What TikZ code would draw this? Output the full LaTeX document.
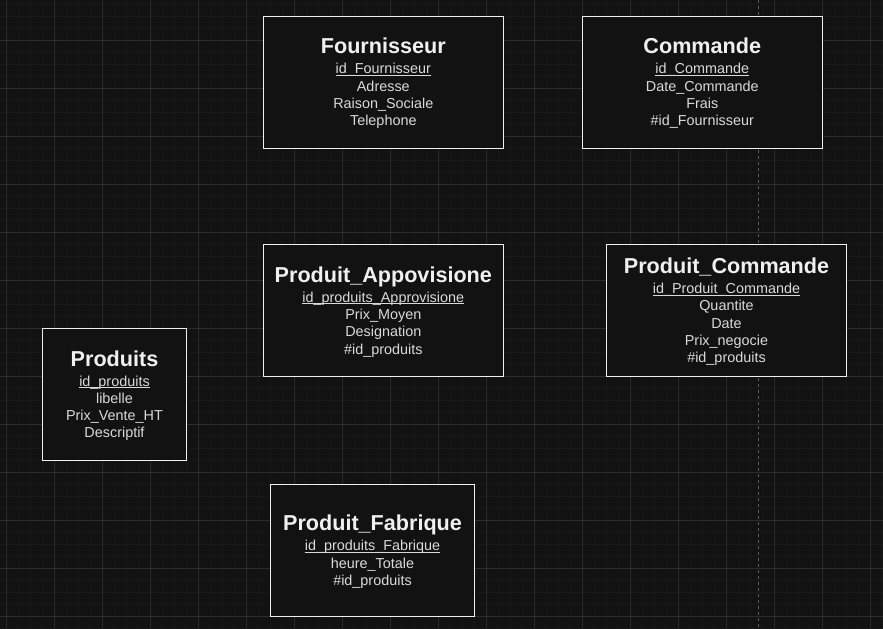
\documentclass[tikz,border=0pt]{standalone}
\usepackage{fontspec}
\setmainfont{Liberation Sans}
\usetikzlibrary{calc}
\definecolor{bgcol}{HTML}{121212}
\definecolor{minorcol}{HTML}{181818}
\definecolor{majorcol}{HTML}{2C2C2C}
\definecolor{pagecol}{HTML}{5C5C5C}
\definecolor{edgecol}{HTML}{F0F0F0}
\definecolor{titlecol}{HTML}{F0F0F0}
\definecolor{attrcol}{HTML}{DADADA}
\newsavebox\pkbox
\newcommand\ulpk[1]{\sbox\pkbox{#1}\rlap{\rule[-2.2pt]{\wd\pkbox}{0.9pt}}\usebox\pkbox}
\tikzset{
  minorgrid/.style={draw=minorcol, line width=1pt},
  majorgrid/.style={draw=majorcol, line width=1pt},
  pageline/.style={draw=pagecol, line width=1pt, dash pattern=on 3pt off 3pt},
  erbox/.style={draw=edgecol, fill=bgcol, line width=1pt, minimum height=132pt, inner sep=0pt, rectangle},
  titletxt/.style={anchor=base, inner sep=0pt, text=titlecol, font=\fontsize{21.6}{26}\selectfont\bfseries},
  attrtxt/.style={anchor=base, inner sep=0pt, text=attrcol, font=\fontsize{14.4}{17.3}\selectfont},
}
% #1 name, #2 centre, #3 width, #4 title baseline offset, #5 title, #6 key, #7 other attributes
\newcommand\erentity[7]{%
  \node[erbox, minimum width=#3] (#1) at #2 {};
  \node[titletxt] (#1-t) at ($(#1.center)+(0,#4)$) {#5};
  \node[attrtxt] (#1-k) at ($(#1.center)+(0,{#4+20})$) {\ulpk{#6}};
  \foreach \a [count=\i] in {#7} {
    \node[attrtxt] (#1-\i) at ($(#1.center)+(0,{#4+20+\i*17.3})$) {\a};
  }%
}
\begin{document}
\begin{tikzpicture}[x=1pt, y=-1pt]
\useasboundingbox (0,0) rectangle (883,629);
\fill[bgcol] (0,0) rectangle (883,629);
% grid
\foreach \i in {0,...,73} \draw[minorgrid] ({6.5+12*\i},0) -- ++(0,629);
\foreach \i in {0,...,52} \draw[minorgrid] (0,{4.3+12*\i}) -- ++(883,0);
\foreach \i in {0,...,18} \draw[majorgrid] ({6.5+48*\i},0) -- ++(0,629);
\foreach \i in {0,...,12} \draw[majorgrid] (0,{40.3+48*\i}) -- ++(883,0);
% page break line
\coordinate (pgtop) at (758.5,0);
\coordinate (pgbot) at (758.5,629);
\draw[pageline] (pgtop) -- (pgbot);
% entities
\erentity{four}{(383.3,82)}{240pt}{-28.15}{Fournisseur}{id\_Fournisseur}{Adresse,Raison\_Sociale,Telephone}
\erentity{cmd}{(702.3,82)}{240pt}{-28.15}{Commande}{id\_Commande}{Date\_Commande,Frais,\#id\_Fournisseur}
\erentity{appro}{(383.3,310.3)}{240pt}{-28.15}{Produit\_Appovisione}{id\_produits\_Approvisione}{Prix\_Moyen,Designation,\#id\_produits}
\erentity{pcmd}{(726.5,310.3)}{240pt}{-36.8}{Produit\_Commande}{id\_Produit\_Commande}{Quantite,Date,Prix\_negocie,\#id\_produits}
\erentity{prod}{(114.5,394.2)}{144pt}{-28.15}{Produits}{id\_produits}{libelle,Prix\_Vente\_HT,Descriptif}
\erentity{fab}{(372.5,550.2)}{204pt}{-19.5}{Produit\_Fabrique}{id\_produits\_Fabrique}{heure\_Totale,\#id\_produits}
\end{tikzpicture}
\end{document}
